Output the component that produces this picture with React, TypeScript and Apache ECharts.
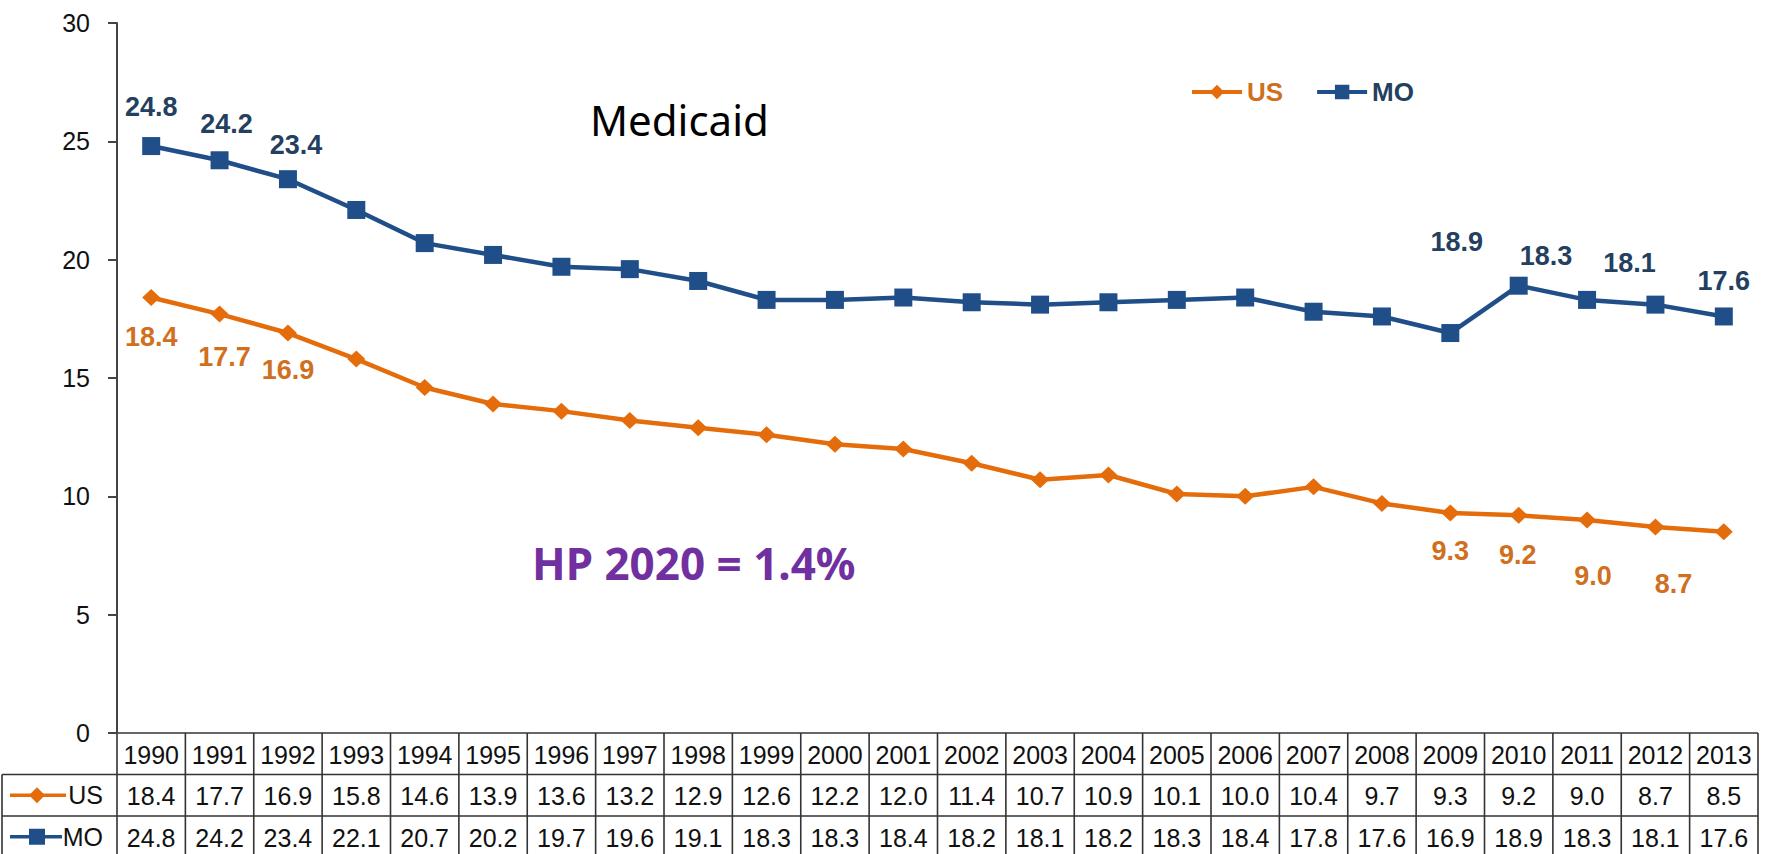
import React, { useEffect, useRef } from "react";
import * as echarts from "echarts";

const years = ["1990","1991","1992","1993","1994","1995","1996","1997","1998","1999","2000","2001","2002","2003","2004","2005","2006","2007","2008","2009","2010","2011","2012","2013"];
const usValues = [18.4,17.7,16.9,15.8,14.6,13.9,13.6,13.2,12.9,12.6,12.2,12.0,11.4,10.7,10.9,10.1,10.0,10.4,9.7,9.3,9.2,9.0,8.7,8.5];
const moValues = [24.8,24.2,23.4,22.1,20.7,20.2,19.7,19.6,19.1,18.3,18.3,18.4,18.2,18.1,18.2,18.3,18.4,17.8,17.6,16.9,18.9,18.3,18.1,17.6];
const yMin = 0;
const yMax = 30;
const yStep = 5;

// which points carry a value label (by index), with small label nudges (style only)
const usLabelNudge: Record<number, [number, number]> = { 0: [0, 0], 1: [5, 4], 2: [0, -2], 19: [0, -1], 20: [-1, 1], 21: [6, 17], 22: [18, 18] };
const moLabelNudge: Record<number, [number, number]> = { 0: [0, 0], 1: [7, 3], 2: [8, 5], 20: [-62, -4], 21: [-41, -4], 22: [-26, -2], 23: [0, 4] };

const US_LINE = "#E46C0A";
const US_TEXT = "#D0701F";
const MO_LINE = "#1F4E89";
const MO_TEXT = "#243F60";
const FONT = "'Liberation Sans', Arial, sans-serif";

const W = 1765;
const H = 854;
const GRID_L = 117;
const GRID_R = 1758;
const GRID_T = 23;
const GRID_B = 733;
const ROW_H = 41.5;

export default function App() {
  const ref = useRef<HTMLDivElement>(null);
  useEffect(() => {
    document.body.style.margin = "0";
    if (!ref.current) return;
    const chart = echarts.init(ref.current, null, { renderer: "svg" });

    const mkData = (vals: number[], nudge: Record<number, [number, number]>) =>
      vals.map((v, i) => ({
        value: v,
        label: { show: nudge[i] !== undefined, offset: nudge[i] || [0, 0] },
      }));

    const colW = (GRID_R - GRID_L) / years.length;
    const lineStyle = { stroke: "#333", lineWidth: 1.6 };
    const graphics: any[] = [];
    for (let i = 0; i <= years.length; i++) {
      const x = GRID_L + i * colW;
      graphics.push({ type: "line", shape: { x1: x, y1: GRID_B, x2: x, y2: H }, style: lineStyle, silent: true });
    }
    graphics.push({ type: "line", shape: { x1: 2, y1: GRID_B + ROW_H, x2: 2, y2: H }, style: lineStyle, silent: true });
    [1, 2, 3].forEach((r) => {
      const y = GRID_B + r * ROW_H;
      graphics.push({ type: "line", shape: { x1: 2, y1: y, x2: GRID_R, y2: y }, style: lineStyle, silent: true });
    });
    graphics.push({ type: "line", shape: { x1: GRID_L, y1: GRID_B, x2: GRID_R, y2: GRID_B }, style: lineStyle, silent: true });

    const usY = GRID_B + ROW_H * 1.5;
    const moY = GRID_B + ROW_H * 2.5;
    graphics.push(
      { type: "line", shape: { x1: 10, y1: usY, x2: 66, y2: usY }, style: { stroke: US_LINE, lineWidth: 3.5 } },
      { type: "polygon", shape: { points: [[37, usY - 8], [45, usY], [37, usY + 8], [29, usY]] }, style: { fill: US_LINE } },
      { type: "text", style: { text: "US", x: 103, y: usY, align: "right", verticalAlign: "middle", font: `25px ${FONT}`, fill: "#111" } },
      { type: "line", shape: { x1: 10, y1: moY, x2: 62, y2: moY }, style: { stroke: MO_LINE, lineWidth: 3.5 } },
      { type: "rect", shape: { x: 29, y: moY - 8, width: 16, height: 16 }, style: { fill: MO_LINE } },
      { type: "text", style: { text: "MO", x: 103, y: moY, align: "right", verticalAlign: "middle", font: `25px ${FONT}`, fill: "#111" } },
      { type: "text", style: { text: "Medicaid", x: 590, y: 119, align: "left", verticalAlign: "middle", font: `42px 'Noto Sans', sans-serif`, fill: "#000" } },
      { type: "text", style: { text: "HP 2020 = 1.4%", x: 532, y: 563, align: "left", verticalAlign: "middle", font: `bold 44px 'Noto Sans', sans-serif`, fill: "#7030A0" } }
    );

    chart.setOption({
      animation: false,
      grid: { left: GRID_L, right: W - GRID_R, top: GRID_T, bottom: H - GRID_B, containLabel: false, outerBoundsMode: "none" },
      legend: {
        left: 1185,
        top: 74,
        itemWidth: 50,
        itemHeight: 18,
        itemGap: 32,
        lineStyle: { width: 4 },
        textStyle: { fontSize: 26, fontWeight: "bold", fontFamily: FONT },
        data: [
          { name: "US", textStyle: { color: US_TEXT } },
          { name: "MO", textStyle: { color: MO_TEXT } },
        ],
      },
      xAxis: {
        type: "category",
        data: years,
        boundaryGap: true,
        axisLine: { show: false },
        axisTick: { show: false },
        axisLabel: {
          interval: 0,
          margin: 1,
          fontSize: 25,
          lineHeight: ROW_H,
          fontFamily: FONT,
          color: "#111",
          formatter: (v: string, i: number) => `${v}\n${usValues[i].toFixed(1)}\n${moValues[i].toFixed(1)}`,
        },
      },
      yAxis: {
        type: "value",
        min: yMin,
        max: yMax,
        interval: yStep,
        axisLine: { show: true, lineStyle: { color: "#444", width: 2 } },
        axisTick: { show: true, length: 9, lineStyle: { color: "#444", width: 2 } },
        splitLine: { show: false },
        axisLabel: { fontSize: 25, fontFamily: FONT, color: "#111", margin: 27 },
      },
      series: [
        {
          name: "US",
          type: "line",
          data: mkData(usValues, usLabelNudge),
          symbol: "diamond",
          symbolSize: [18, 17],
          itemStyle: { color: US_LINE },
          lineStyle: { color: US_LINE, width: 4.5 },
          label: { position: "bottom", distance: 17, fontSize: 27, fontWeight: "bold", fontFamily: FONT, color: US_TEXT, formatter: (p: any) => Number(p.value).toFixed(1) },
          z: 3,
        },
        {
          name: "MO",
          type: "line",
          data: mkData(moValues, moLabelNudge),
          symbol: "rect",
          symbolSize: 18,
          itemStyle: { color: MO_LINE },
          lineStyle: { color: MO_LINE, width: 4.5 },
          label: { position: "top", distance: 17, fontSize: 27, fontWeight: "bold", fontFamily: FONT, color: MO_TEXT, formatter: (p: any) => Number(p.value).toFixed(1) },
          z: 4,
        },
      ],
      graphic: graphics,
    });
    return () => chart.dispose();
  }, []);
  return <div ref={ref} style={{ width: W, height: H }} />;
}
